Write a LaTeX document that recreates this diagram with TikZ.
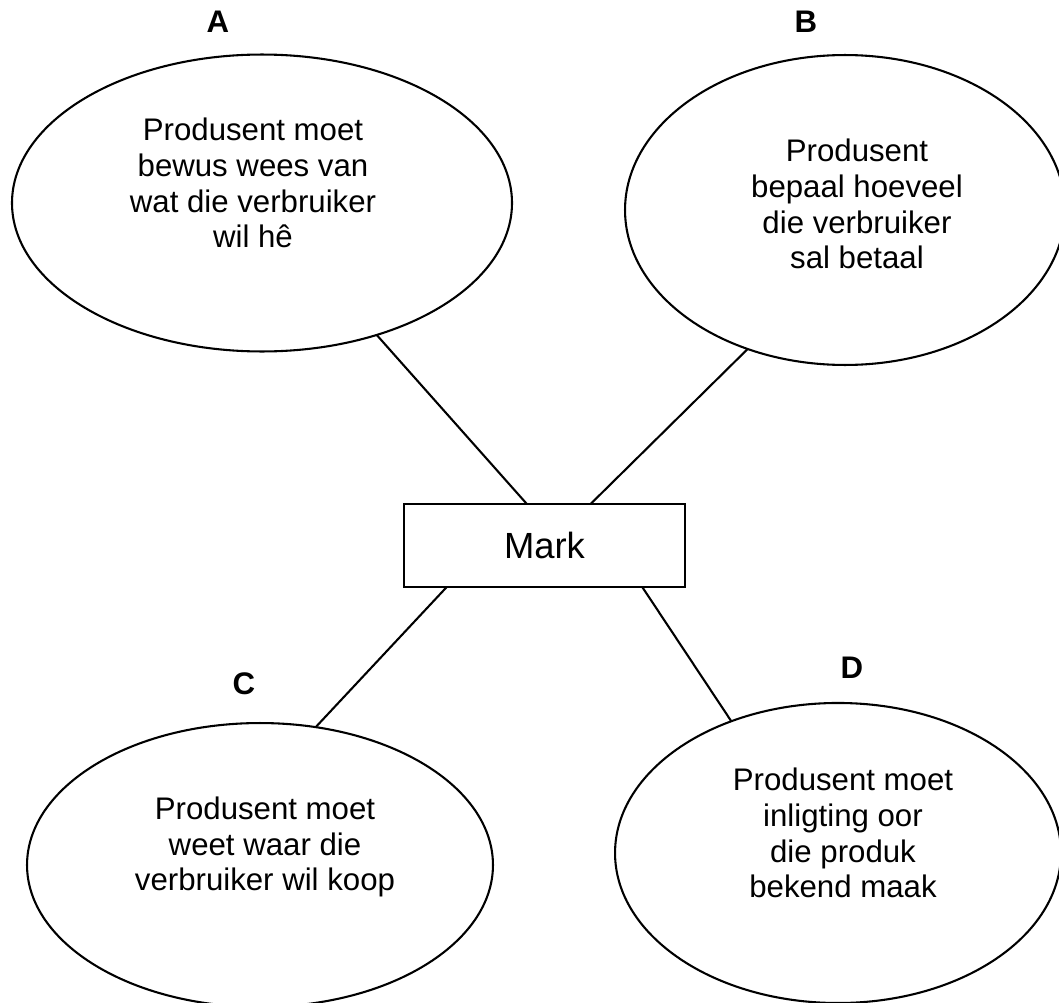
\documentclass[tikz,border=0pt]{standalone}
\usepackage{fontspec}
\setmainfont{Liberation Sans}
\usetikzlibrary{shapes.geometric}
\begin{document}
\begin{tikzpicture}[x=0.3846pt,y=-0.3846pt,inner sep=0pt,outer sep=0pt,line width=0.8pt,
bubble/.style={draw,ellipse},
bubbletext/.style={align=center,font=\fontsize{12}{13.8}\selectfont},
letter/.style={font=\fontsize{12}{14}\selectfont\bfseries},
markbox/.style={draw,rectangle,minimum width=108.1pt,minimum height=31.9pt,font=\fontsize{14}{16}\selectfont}]
\useasboundingbox (0,0) rectangle (1059,1003);
% the four ellipses
\draw (262,203) node[bubble,minimum width=192.3pt,minimum height=114.2pt] (A) {};
\draw (845,210) node[bubble,minimum width=169.2pt,minimum height=119.2pt] (B) {};
\draw (260,865) node[bubble,minimum width=179.2pt,minimum height=109.2pt] (C) {};
\draw (838,853) node[bubble,minimum width=171.5pt,minimum height=115.4pt] (D) {};
\draw (253,183) node[bubbletext] (textA) {Produsent moet\\bewus wees van\\wat die verbruiker\\wil hê};
\draw (857,204) node[bubbletext] (textB) {Produsent\\bepaal hoeveel\\die verbruiker\\sal betaal};
\draw (265,847) node[bubbletext] (textC) {Produsent moet\\weet waar die\\verbruiker wil koop};
\draw (843,833) node[bubbletext] (textD) {Produsent moet\\inligting oor\\die produk\\bekend maak};
% letters
\draw (218,22) node[letter] (labA) {A};
\draw (806,22) node[letter] (labB) {B};
\draw (244,684) node[letter] (labC) {C};
\draw (852,668) node[letter] (labD) {D};
% centre box
\draw (544.5,545.5) node[markbox] (mark) {Mark};
\draw (A.-49) -- (mark.113);
\draw (B.235) -- (mark.42);
\draw (mark.203) -- (C.68);
\draw (mark.-23.5) -- (D.129);
\end{tikzpicture}
\end{document}
